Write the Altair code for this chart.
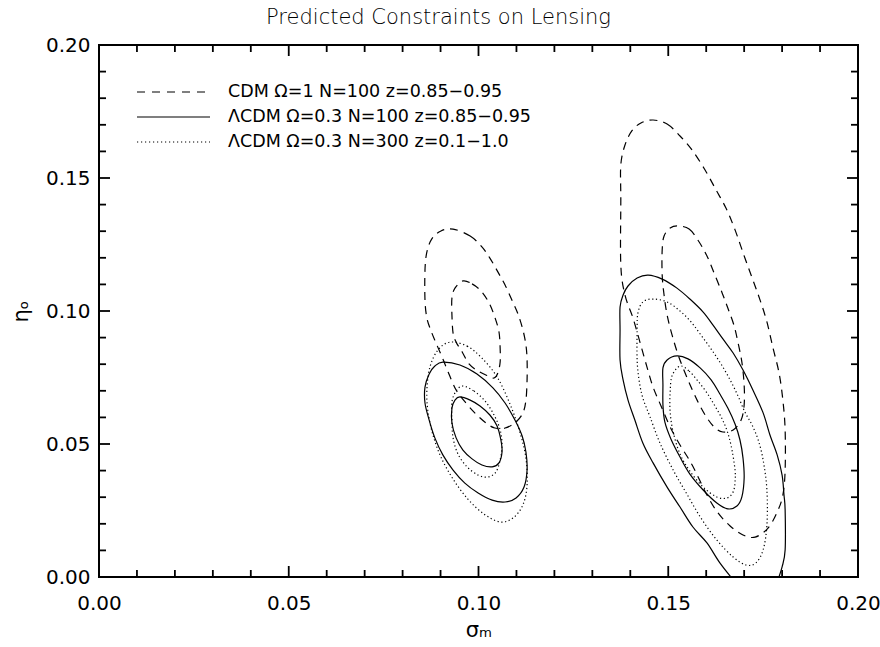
import altair as alt
import pandas as pd

# ---------------- data (sigma_m, eta_o) ----------------
# CDM Omega=1 (dashed) -- left group (z=0.85-0.95)
cdm_a_outer_sigma = [0.0933, 0.0978, 0.1009, 0.1030, 0.1051, 0.1070, 0.1088, 0.1104, 0.1117, 0.1125,
                     0.1128, 0.1128, 0.1125, 0.1117, 0.1099, 0.1070, 0.1043, 0.1020, 0.0993, 0.0967,
                     0.0941, 0.0920, 0.0904, 0.0888, 0.0875, 0.0864, 0.0859, 0.0859, 0.0864, 0.0877, 0.0901]
cdm_a_outer_eta = [0.1308, 0.1282, 0.1241, 0.1199, 0.1147, 0.1098, 0.1041, 0.0989, 0.0929, 0.0872,
                   0.0816, 0.0741, 0.0665, 0.0617, 0.0583, 0.0560, 0.0560, 0.0579, 0.0613, 0.0654,
                   0.0703, 0.0771, 0.0827, 0.0880, 0.0925, 0.0974, 0.1041, 0.1154, 0.1222, 0.1271, 0.1301]
cdm_a_inner_sigma = [0.0959, 0.0983, 0.1007, 0.1028, 0.1043, 0.1054, 0.1057, 0.1057, 0.1051, 0.1041,
                     0.1025, 0.0999, 0.0975, 0.0957, 0.0941, 0.0933, 0.0930, 0.0930, 0.0938]
cdm_a_inner_eta = [0.1113, 0.1102, 0.1075, 0.1030, 0.0977, 0.0921, 0.0861, 0.0808, 0.0767, 0.0748,
                   0.0756, 0.0774, 0.0801, 0.0846, 0.0883, 0.0917, 0.0985, 0.1049, 0.1086]
# CDM Omega=1 (dashed) -- right group
cdm_b_outer_sigma = [0.1460, 0.1497, 0.1531, 0.1563, 0.1597, 0.1626, 0.1652, 0.1676, 0.1702, 0.1723,
                     0.1742, 0.1760, 0.1776, 0.1792, 0.1802, 0.1808, 0.1808, 0.1802, 0.1787, 0.1763,
                     0.1729, 0.1697, 0.1663, 0.1631, 0.1602, 0.1563, 0.1531, 0.1505, 0.1481, 0.1460,
                     0.1444, 0.1426, 0.1407, 0.1386, 0.1375, 0.1375, 0.1375, 0.1386, 0.1404, 0.1428]
cdm_b_outer_eta = [0.1718, 0.1703, 0.1658, 0.1605, 0.1530, 0.1455, 0.1387, 0.1305, 0.1199, 0.1117,
                   0.1041, 0.0959, 0.0861, 0.0767, 0.0665, 0.0553, 0.0402, 0.0308, 0.0244, 0.0184,
                   0.0150, 0.0158, 0.0192, 0.0241, 0.0308, 0.0421, 0.0496, 0.0564, 0.0643, 0.0714,
                   0.0789, 0.0880, 0.0974, 0.1060, 0.1173, 0.1417, 0.1549, 0.1624, 0.1677, 0.1707]
cdm_b_inner_sigma = [0.1526, 0.1555, 0.1578, 0.1602, 0.1623, 0.1642, 0.1657, 0.1673, 0.1684, 0.1694,
                     0.1700, 0.1700, 0.1692, 0.1671, 0.1644, 0.1621, 0.1599, 0.1576, 0.1552, 0.1528,
                     0.1510, 0.1497, 0.1489, 0.1484, 0.1484, 0.1489, 0.1505]
cdm_b_inner_eta = [0.1320, 0.1308, 0.1267, 0.1207, 0.1135, 0.1068, 0.1011, 0.0947, 0.0880, 0.0808,
                   0.0722, 0.0647, 0.0590, 0.0553, 0.0545, 0.0564, 0.0605, 0.0665, 0.0741, 0.0827,
                   0.0910, 0.0985, 0.1060, 0.1135, 0.1229, 0.1282, 0.1312]

# LCDM Omega=0.3 N=100 (solid) -- left group
lcdm_a_outer_sigma = [0.0906, 0.0951, 0.0996, 0.1038, 0.1070, 0.1096, 0.1115, 0.1125, 0.1128, 0.1120,
                      0.1099, 0.1070, 0.1036, 0.0999, 0.0964, 0.0933, 0.0906, 0.0885, 0.0870, 0.0859,
                      0.0859, 0.0870, 0.0885]
lcdm_a_outer_eta = [0.0808, 0.0797, 0.0763, 0.0711, 0.0654, 0.0590, 0.0530, 0.0470, 0.0402, 0.0338,
                    0.0297, 0.0282, 0.0289, 0.0316, 0.0353, 0.0402, 0.0459, 0.0523, 0.0590, 0.0654,
                    0.0714, 0.0763, 0.0793]
lcdm_a_inner_sigma = [0.0951, 0.0978, 0.1004, 0.1030, 0.1049, 0.1059, 0.1062, 0.1054, 0.1036, 0.1009,
                      0.0983, 0.0959, 0.0941, 0.0930, 0.0930, 0.0938]
lcdm_a_inner_eta = [0.0677, 0.0665, 0.0643, 0.0609, 0.0568, 0.0515, 0.0470, 0.0429, 0.0414, 0.0421,
                    0.0444, 0.0477, 0.0523, 0.0579, 0.0635, 0.0665]
# LCDM Omega=0.3 N=100 (solid) -- right group (outer contour runs below eta=0)
lcdm_b_outer_sigma = [0.1676, 0.1636, 0.1602, 0.1565, 0.1531, 0.1497, 0.1460, 0.1433, 0.1412, 0.1394,
                      0.1381, 0.1373, 0.1373, 0.1373, 0.1381, 0.1394, 0.1418, 0.1447, 0.1484, 0.1523,
                      0.1557, 0.1592, 0.1618, 0.1644, 0.1671, 0.1697, 0.1723, 0.1750, 0.1768, 0.1787,
                      0.1800, 0.1805, 0.1808, 0.1808, 0.1800, 0.1787]
lcdm_b_outer_eta = [-0.0019, 0.0053, 0.0128, 0.0188, 0.0263, 0.0338, 0.0429, 0.0504, 0.0590, 0.0665,
                    0.0741, 0.0816, 0.0929, 0.1015, 0.1060, 0.1094, 0.1124, 0.1135, 0.1120, 0.1086,
                    0.1045, 0.0996, 0.0947, 0.0895, 0.0842, 0.0778, 0.0703, 0.0617, 0.0534, 0.0459,
                    0.0383, 0.0308, 0.0252, 0.0102, 0.0038, -0.0019]
lcdm_b_inner_sigma = [0.1523, 0.1552, 0.1584, 0.1613, 0.1636, 0.1657, 0.1676, 0.1689, 0.1697, 0.1700,
                      0.1694, 0.1681, 0.1657, 0.1628, 0.1592, 0.1557, 0.1531, 0.1507, 0.1491, 0.1486,
                      0.1486, 0.1486, 0.1497]
lcdm_b_inner_eta = [0.0831, 0.0820, 0.0786, 0.0741, 0.0688, 0.0635, 0.0575, 0.0515, 0.0447, 0.0372,
                    0.0301, 0.0267, 0.0256, 0.0278, 0.0327, 0.0387, 0.0451, 0.0519, 0.0583, 0.0647,
                    0.0722, 0.0786, 0.0816]

# LCDM Omega=0.3 N=300 (dotted) -- left group
lcdm300_a_outer_sigma = [0.0925, 0.0970, 0.1009, 0.1049, 0.1083, 0.1109, 0.1125, 0.1128, 0.1117, 0.1091,
                         0.1057, 0.1014, 0.0972, 0.0933, 0.0901, 0.0880, 0.0867, 0.0864, 0.0872, 0.0893]
lcdm300_a_outer_eta = [0.0883, 0.0868, 0.0823, 0.0752, 0.0650, 0.0545, 0.0447, 0.0346, 0.0271, 0.0222,
                       0.0207, 0.0237, 0.0293, 0.0368, 0.0451, 0.0534, 0.0620, 0.0703, 0.0789, 0.0853]
lcdm300_a_inner_sigma = [0.0959, 0.0988, 0.1017, 0.1041, 0.1057, 0.1062, 0.1057, 0.1046, 0.1025, 0.0999,
                         0.0970, 0.0946, 0.0933, 0.0930, 0.0930, 0.0941]
lcdm300_a_inner_eta = [0.0718, 0.0699, 0.0662, 0.0609, 0.0553, 0.0496, 0.0440, 0.0395, 0.0376, 0.0383,
                       0.0414, 0.0462, 0.0523, 0.0590, 0.0658, 0.0699]
# LCDM Omega=0.3 N=300 (dotted) -- right group
lcdm300_b_outer_sigma = [0.1460, 0.1497, 0.1531, 0.1560, 0.1586, 0.1613, 0.1639, 0.1663, 0.1684, 0.1702,
                         0.1721, 0.1737, 0.1750, 0.1760, 0.1760, 0.1750, 0.1731, 0.1705, 0.1671, 0.1628,
                         0.1586, 0.1549, 0.1513, 0.1478, 0.1452, 0.1433, 0.1423, 0.1418, 0.1418, 0.1420, 0.1433]
lcdm300_b_outer_eta = [0.1045, 0.1034, 0.1000, 0.0959, 0.0910, 0.0857, 0.0801, 0.0741, 0.0680, 0.0620,
                       0.0571, 0.0515, 0.0440, 0.0327, 0.0195, 0.0102, 0.0053, 0.0045, 0.0075, 0.0139,
                       0.0222, 0.0312, 0.0402, 0.0504, 0.0602, 0.0673, 0.0741, 0.0816, 0.0929, 0.0992, 0.1034]
lcdm300_b_inner_sigma = [0.1531, 0.1555, 0.1578, 0.1602, 0.1623, 0.1642, 0.1657, 0.1668, 0.1676, 0.1676,
                         0.1671, 0.1655, 0.1628, 0.1592, 0.1557, 0.1531, 0.1513, 0.1505, 0.1505, 0.1510]
lcdm300_b_inner_eta = [0.0793, 0.0774, 0.0737, 0.0692, 0.0643, 0.0594, 0.0541, 0.0477, 0.0402, 0.0357,
                       0.0320, 0.0297, 0.0301, 0.0338, 0.0398, 0.0462, 0.0545, 0.0620, 0.0692, 0.0756]

legend_labels = ["CDM \u03a9=1 N=100 z=0.85\u22120.95",
                 "\u039bCDM \u03a9=0.3 N=100 z=0.85\u22120.95",
                 "\u039bCDM \u03a9=0.3 N=300 z=0.1\u22121.0"]

x_major_ticks = [0.00, 0.05, 0.10, 0.15, 0.20]
x_minor_ticks = [0.01, 0.02, 0.03, 0.04, 0.06, 0.07, 0.08, 0.09, 0.11, 0.12, 0.13, 0.14,
                 0.16, 0.17, 0.18, 0.19]
y_major_ticks = [0.00, 0.05, 0.10, 0.15, 0.20]
y_minor_ticks = [0.01, 0.02, 0.03, 0.04, 0.06, 0.07, 0.08, 0.09, 0.11, 0.12, 0.13, 0.14,
                 0.16, 0.17, 0.18, 0.19]

# ---------------- build table ----------------
contours = [
    ("cdm_a_outer", "dashed", cdm_a_outer_sigma, cdm_a_outer_eta, True),
    ("cdm_a_inner", "dashed", cdm_a_inner_sigma, cdm_a_inner_eta, True),
    ("cdm_b_outer", "dashed", cdm_b_outer_sigma, cdm_b_outer_eta, True),
    ("cdm_b_inner", "dashed", cdm_b_inner_sigma, cdm_b_inner_eta, True),
    ("lcdm_a_outer", "solid", lcdm_a_outer_sigma, lcdm_a_outer_eta, True),
    ("lcdm_a_inner", "solid", lcdm_a_inner_sigma, lcdm_a_inner_eta, True),
    ("lcdm_b_outer", "solid", lcdm_b_outer_sigma, lcdm_b_outer_eta, False),
    ("lcdm_b_inner", "solid", lcdm_b_inner_sigma, lcdm_b_inner_eta, True),
    ("lcdm300_a_outer", "dotted", lcdm300_a_outer_sigma, lcdm300_a_outer_eta, True),
    ("lcdm300_a_inner", "dotted", lcdm300_a_inner_sigma, lcdm300_a_inner_eta, True),
    ("lcdm300_b_outer", "dotted", lcdm300_b_outer_sigma, lcdm300_b_outer_eta, True),
    ("lcdm300_b_inner", "dotted", lcdm300_b_inner_sigma, lcdm300_b_inner_eta, True),
]
rows = []
for name, style, xs, ys, closed in contours:
    for i, (sx, ey) in enumerate(zip(xs, ys)):
        rows.append({"contour": name, "style": style, "closed": closed, "i": i, "sigma": sx, "eta": ey})
df = pd.DataFrame(rows)

W, H = 759, 532
FONT = "DejaVu Sans"
dash_styles = {"dashed": [8, 6], "solid": [1, 0], "dotted": [1.2, 2.6]}

xscale = alt.Scale(domain=[0, 0.2], nice=False, zero=False)
yscale = alt.Scale(domain=[0, 0.2], nice=False, zero=False)

x_axis = alt.Axis(values=x_major_ticks, format=".2f", ticks=False, tickSize=0, domain=False, grid=False,
                  labelPadding=16, labelFontSize=20, labelFont=FONT, labelColor="black",
                  labelFlush=False, labelOverlap=False,
                  title="\u03c3\u2098", titleFontSize=21, titleFont=FONT, titleFontWeight="normal",
                  titleColor="black", titlePadding=6)
y_axis = alt.Axis(values=y_major_ticks, format=".2f", ticks=False, tickSize=0, domain=False, grid=False,
                  labelPadding=9, labelFontSize=20, labelFont=FONT, labelColor="black",
                  labelFlush=False, labelOverlap=False,
                  title="\u03b7\u2092", titleFontSize=21, titleFont=FONT, titleFontWeight="normal",
                  titleColor="black", titlePadding=14)

X = alt.X("sigma:Q", scale=xscale, axis=x_axis)
Y = alt.Y("eta:Q", scale=yscale, axis=y_axis)

layers = []
for style in ["dashed", "solid", "dotted"]:
    for closed in [True, False]:
        sub = df[(df["style"] == style) & (df["closed"] == closed)]
        if len(sub) == 0:
            continue
        mark_kw = dict(color="black", strokeWidth=1.2, clip=True,
                       interpolate="cardinal-closed" if closed else "cardinal")
        if style != "solid":
            mark_kw["strokeDash"] = dash_styles[style]
        layers.append(
            alt.Chart(sub).mark_line(**mark_kw).encode(x=X, y=Y, detail="contour:N", order="i:Q")
        )

# inward tick marks on all four sides
def xticks(vals, length):
    d = pd.DataFrame({"sigma": vals})
    bottom = alt.Chart(d).mark_rule(color="black", strokeWidth=1.8).encode(
        x=X, y=alt.value(H), y2=alt.value(H - length))
    top = alt.Chart(d).mark_rule(color="black", strokeWidth=1.8).encode(
        x=X, y=alt.value(0), y2=alt.value(length))
    return [bottom, top]

def yticks(vals, length):
    d = pd.DataFrame({"eta": vals})
    left = alt.Chart(d).mark_rule(color="black", strokeWidth=1.8).encode(
        y=Y, x=alt.value(0), x2=alt.value(length))
    right = alt.Chart(d).mark_rule(color="black", strokeWidth=1.8).encode(
        y=Y, x=alt.value(W), x2=alt.value(W - length))
    return [left, right]

layers += xticks(x_major_ticks, 11) + xticks(x_minor_ticks, 7)
layers += yticks(y_major_ticks, 11) + yticks(y_minor_ticks, 7)

# legend (inside plot, upper left)
legend_dash = [[8, 7], None, [1.2, 2.8]]
for k, label in enumerate(legend_labels):
    d = pd.DataFrame({"label": [label]})
    kw = dict(color="black", strokeWidth=1.2)
    if legend_dash[k] is not None:
        kw["strokeDash"] = legend_dash[k]
    ypos = 47 + 25 * k
    layers.append(alt.Chart(d).mark_rule(**kw).encode(
        x=alt.value(38), x2=alt.value(111), y=alt.value(ypos)))
    layers.append(alt.Chart(d).mark_text(align="left", baseline="middle", font=FONT, fontSize=17.5,
                                         color="black").encode(
        x=alt.value(129), y=alt.value(ypos), text="label:N"))

chart = alt.layer(*layers).properties(
    width=W, height=H,
    background="white",
    autosize=alt.AutoSizeParams(type="none"),
    padding={"left": 99, "top": 45, "right": 880 - 99 - W, "bottom": 647 - 45 - H},
    title=alt.TitleParams("Predicted Constraints on Lensing", font=FONT, fontSize=21,
                          fontWeight=200, color="black", anchor="middle", dx=-40, offset=7),
).configure_view(stroke="black", strokeWidth=2)

chart.save("out.html", embed_options={"renderer": "svg", "actions": False})
